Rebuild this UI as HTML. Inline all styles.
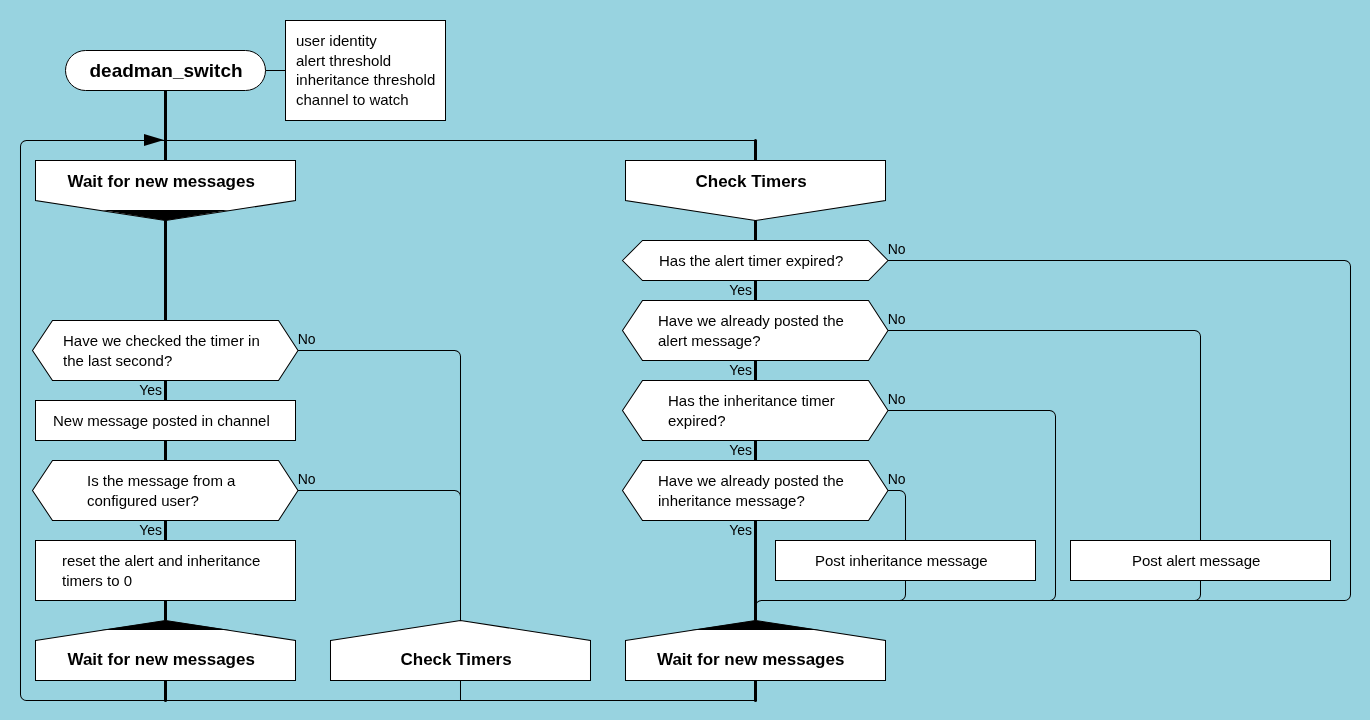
<!DOCTYPE html>
<html>
<head>
<meta charset="utf-8">
<title>deadman_switch</title>
<style>
html,body{margin:0;padding:0;background:#98d3e0;width:1370px;height:720px;overflow:hidden}
svg{display:block;position:absolute;left:0;top:0}
#t{will-change:transform}
text{font-family:"Liberation Sans",sans-serif;fill:#000}
</style>
</head>
<body>
<svg width="1370" height="720" viewBox="0 0 1370 720">
<rect x="0" y="0" width="1370" height="720" fill="#98d3e0"/>
<g transform="translate(0.5,0.5)">
<path d="M755 700 H26 A6 6 0 0 1 20 694 V146 A6 6 0 0 1 26 140 H755" fill="none" stroke="#000" stroke-width="1.01"/>
<path d="M265 70 H285" fill="none" stroke="#000" stroke-width="1"/>
<path d="M297 350 H454 A6 6 0 0 1 460 356 V700" fill="none" stroke="#000" stroke-width="1.01"/>
<path d="M297 490 H454 A6 6 0 0 1 460 496" fill="none" stroke="#000" stroke-width="1.01"/>
<path d="M887 260 H1344 A6 6 0 0 1 1350 266 V594 A6 6 0 0 1 1344 600 H761 A6 6 0 0 0 755 606" fill="none" stroke="#000" stroke-width="1.01"/>
<path d="M887 330 H1194 A6 6 0 0 1 1200 336 V594 A6 6 0 0 1 1194 600" fill="none" stroke="#000" stroke-width="1.01"/>
<path d="M887 410 H1049 A6 6 0 0 1 1055 416 V594 A6 6 0 0 1 1049 600" fill="none" stroke="#000" stroke-width="1.01"/>
<path d="M887 490 H899 A6 6 0 0 1 905 496 V594 A6 6 0 0 1 899 600" fill="none" stroke="#000" stroke-width="1.01"/>
<line x1="165" y1="90" x2="165" y2="700" stroke="#000" stroke-width="3" stroke-linecap="round"/>
<line x1="755" y1="140" x2="755" y2="700" stroke="#000" stroke-width="3" stroke-linecap="round"/>
<polygon points="143.5,133.5 163.5,139.5 143.5,145.5" fill="#000" stroke="none"/>
<rect x="65" y="50" width="200" height="40" rx="20" ry="20" fill="#fff" stroke="#000" stroke-width="1"/>
<rect x="285" y="20" width="160" height="100" fill="#fff" stroke="#000" stroke-width="1"/>
<polygon points="35,160 295,160 295,200 165,220 35,200" fill="#fff" stroke="#000" stroke-width="1.01"/>
<polygon points="101,209.5 229,209.5 165,220" fill="#000" stroke="none"/>
<polygon points="625,160 885,160 885,200 755,220 625,200" fill="#fff" stroke="#000" stroke-width="1.01"/>
<polygon points="32,350.0 52,320 278,320 297.5,350.0 278,380 52,380" fill="#fff" stroke="#000" stroke-width="1.01"/>
<rect x="35" y="400" width="260" height="40" fill="#fff" stroke="#000" stroke-width="1"/>
<polygon points="32,490.0 52,460 278,460 297.5,490.0 278,520 52,520" fill="#fff" stroke="#000" stroke-width="1.01"/>
<rect x="35" y="540" width="260" height="60" fill="#fff" stroke="#000" stroke-width="1"/>
<polygon points="35,640 165,620 295,640 295,680 35,680" fill="#fff" stroke="#000" stroke-width="1.01"/>
<polygon points="101,629.5 165,620 229,629.5" fill="#000" stroke="none"/>
<polygon points="330,640 460,620 590,640 590,680 330,680" fill="#fff" stroke="#000" stroke-width="1.01"/>
<polygon points="625,640 755,620 885,640 885,680 625,680" fill="#fff" stroke="#000" stroke-width="1.01"/>
<polygon points="691,629.5 755,620 819,629.5" fill="#000" stroke="none"/>
<polygon points="622,260.0 642,240 868,240 887.5,260.0 868,280 642,280" fill="#fff" stroke="#000" stroke-width="1.01"/>
<polygon points="622,330.0 642,300 868,300 887.5,330.0 868,360 642,360" fill="#fff" stroke="#000" stroke-width="1.01"/>
<polygon points="622,410.0 642,380 868,380 887.5,410.0 868,440 642,440" fill="#fff" stroke="#000" stroke-width="1.01"/>
<polygon points="622,490.0 642,460 868,460 887.5,490.0 868,520 642,520" fill="#fff" stroke="#000" stroke-width="1.01"/>
<rect x="775" y="540" width="260" height="40" fill="#fff" stroke="#000" stroke-width="1"/>
<rect x="1070" y="540" width="260" height="40" fill="#fff" stroke="#000" stroke-width="1"/>
</g>
</svg>
<svg id="t" width="1370" height="720" viewBox="0 0 1370 720">
<text x="89.5" y="76.67999999999999" font-size="19" font-weight="bold">deadman_switch</text>
<text x="296" y="46.45" font-size="15">user identity</text>
<text x="296" y="65.95" font-size="15">alert threshold</text>
<text x="296" y="85.45" font-size="15">inheritance threshold</text>
<text x="296" y="104.95" font-size="15">channel to watch</text>
<text x="67.5" y="187" font-size="17" font-weight="bold">Wait for new messages</text>
<text x="695.5" y="187" font-size="17" font-weight="bold">Check Timers</text>
<text x="67.5" y="665" font-size="17" font-weight="bold">Wait for new messages</text>
<text x="400.5" y="665" font-size="17" font-weight="bold">Check Timers</text>
<text x="657" y="665" font-size="17" font-weight="bold">Wait for new messages</text>
<text x="63" y="346" font-size="15">Have we checked the timer in</text>
<text x="63" y="366" font-size="15">the last second?</text>
<text x="53" y="425.7" font-size="15">New message posted in channel</text>
<text x="87" y="486" font-size="15">Is the message from a</text>
<text x="87" y="506" font-size="15">configured user?</text>
<text x="62" y="566" font-size="15">reset the alert and inheritance</text>
<text x="62" y="586" font-size="15">timers to 0</text>
<text x="659" y="265.7" font-size="15">Has the alert timer expired?</text>
<text x="658" y="326" font-size="15">Have we already posted the</text>
<text x="658" y="346" font-size="15">alert message?</text>
<text x="668" y="406" font-size="15">Has the inheritance timer</text>
<text x="668" y="426" font-size="15">expired?</text>
<text x="658" y="486" font-size="15">Have we already posted the</text>
<text x="658" y="506" font-size="15">inheritance message?</text>
<text x="815" y="565.7" font-size="15">Post inheritance message</text>
<text x="1132" y="565.7" font-size="15">Post alert message</text>
<text x="162" y="395" font-size="14" text-anchor="end">Yes</text>
<text x="162" y="535" font-size="14" text-anchor="end">Yes</text>
<text x="752" y="295" font-size="14" text-anchor="end">Yes</text>
<text x="752" y="375" font-size="14" text-anchor="end">Yes</text>
<text x="752" y="455" font-size="14" text-anchor="end">Yes</text>
<text x="752" y="535" font-size="14" text-anchor="end">Yes</text>
<text x="297.7" y="343.8" font-size="14">No</text>
<text x="297.7" y="483.8" font-size="14">No</text>
<text x="887.7" y="253.8" font-size="14">No</text>
<text x="887.7" y="323.8" font-size="14">No</text>
<text x="887.7" y="403.8" font-size="14">No</text>
<text x="887.7" y="483.8" font-size="14">No</text>
</svg>
</body>
</html>
